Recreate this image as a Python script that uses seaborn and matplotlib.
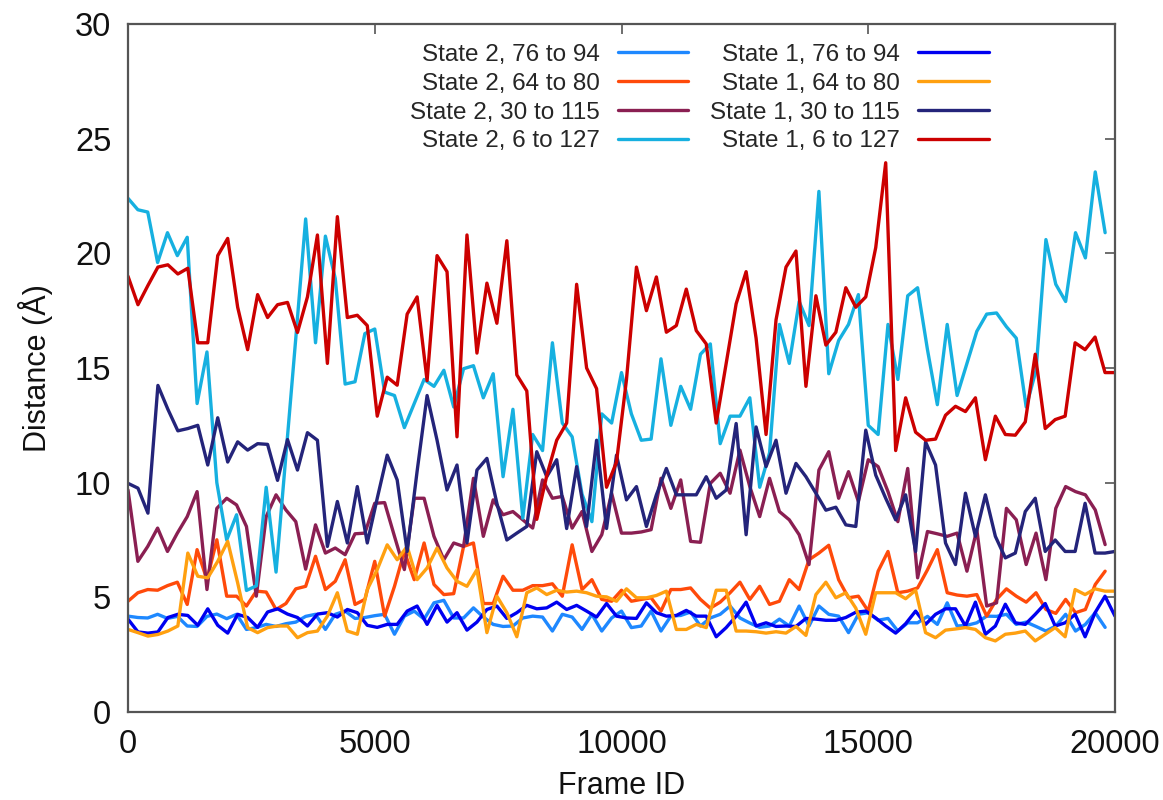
import numpy as np
import pandas as pd
import matplotlib
matplotlib.use("Agg")
import matplotlib.pyplot as plt
import seaborn as sns
from matplotlib.lines import Line2D

# ---------------- data ----------------
frames_s2 = np.arange(0, 19801, 200)          # State 2 sampling (100 frames)
frames_s1 = np.linspace(0, 20000, 100)        # State 1 sampling (100 frames)

s2_76_94 = [4.18, 4.12, 4.1, 4.26, 4.08, 4.17, 3.75, 3.73, 4.17, 4.27,
            4.07, 4.26, 3.6, 3.68, 3.82, 3.73, 3.85, 3.92, 4.17, 4.26,
            3.6, 4.26, 4.4, 4.08, 4.12, 4.2, 4.26, 3.39, 4.18, 4.4,
            4.05, 4.76, 4.87, 4.1, 4.1, 4.54, 4.14, 3.82, 3.73, 3.75,
            4.1, 4.18, 4.14, 3.53, 4.26, 4.14, 3.6, 4.26, 3.53, 4.1,
            4.4, 3.68, 3.75, 4.4, 3.53, 4.18, 4.21, 4.36, 3.75, 4.1,
            4.26, 4.62, 4.1, 3.88, 3.69, 3.75, 4.05, 3.75, 4.62, 3.75,
            4.62, 4.26, 4.18, 3.46, 4.26, 4.33, 4.0, 4.08, 3.53, 3.89,
            3.89, 4.17, 3.82, 4.76, 3.75, 3.78, 3.89, 4.18, 4.17, 4.26,
            3.82, 3.92, 3.73, 3.53, 3.75, 4.26, 3.53, 3.82, 4.33, 3.69]

s2_64_80 = [4.83, 5.2, 5.34, 5.31, 5.51, 5.66, 4.69, 7.08, 5.77, 7.51,
            5.05, 5.05, 4.62, 5.27, 5.23, 4.47, 4.73, 5.37, 5.48, 6.79,
            5.34, 5.7, 6.64, 4.69, 4.91, 6.57, 4.18, 5.48, 7.0, 5.77,
            7.37, 5.56, 5.12, 5.16, 7.22, 7.37, 4.73, 4.73, 5.92, 5.31,
            5.31, 5.51, 5.51, 5.59, 5.05, 7.29, 5.34, 5.77, 4.91, 4.83,
            5.31, 4.83, 4.91, 4.98, 4.4, 5.34, 5.34, 5.41, 4.91, 4.53,
            4.79, 5.2, 5.66, 4.91, 5.48, 4.69, 4.83, 5.77, 5.34, 6.64,
            6.93, 7.27, 5.77, 4.98, 5.05, 4.4, 6.14, 7.0, 5.2, 5.27,
            5.41, 6.2, 7.08, 5.2, 5.1, 5.05, 5.12, 4.18, 4.91, 5.37,
            5.05, 4.79, 5.2, 4.47, 4.3, 4.91, 4.33, 4.47, 5.56, 6.14]

s2_30_115 = [9.68, 6.57, 7.22, 8.02, 7.0, 7.8, 8.52, 9.61, 5.34, 8.88,
             9.32, 9.03, 8.09, 5.05, 8.52, 9.47, 8.81, 8.3, 6.23, 8.16,
             6.93, 7.15, 6.86, 7.77, 7.8, 9.1, 9.13, 7.66, 6.21, 9.32,
             9.32, 7.66, 6.64, 7.37, 7.22, 10.19, 7.66, 9.25, 8.6, 8.74,
             8.38, 8.02, 10.12, 9.32, 9.4, 8.02, 8.74, 7.0, 7.73, 9.54,
             7.8, 7.8, 7.85, 7.95, 10.19, 8.88, 10.12, 7.44, 7.4, 9.97,
             10.41, 9.54, 11.42, 9.83, 8.52, 10.19, 8.74, 8.38, 7.73, 6.43,
             10.55, 11.35, 9.32, 10.48, 9.18, 11.0, 10.7, 9.61, 8.3, 10.62,
             5.85, 7.87, 7.77, 7.66, 7.8, 6.14, 7.95, 4.62, 4.76, 8.88,
             8.38, 6.43, 7.8, 5.77, 8.88, 9.83, 9.61, 9.47, 8.81, 7.3]

s2_6_127 = [22.4, 21.9, 21.8, 19.6, 20.9, 19.9, 20.7, 13.45, 15.7, 10.0,
            7.5, 8.6, 5.3, 5.5, 9.8, 6.1, 11.2, 16.3, 21.5, 16.1,
            20.75, 18.9, 14.3, 14.4, 16.5, 16.7, 13.95, 13.8, 12.4, 13.45,
            14.5, 14.2, 14.9, 13.3, 14.97, 15.1, 13.7, 14.75, 10.26, 13.2,
            8.45, 12.1, 11.4, 16.1, 12.6, 12.0, 9.5, 8.3, 13.0, 12.6,
            14.8, 13.0, 11.85, 11.9, 15.4, 12.5, 14.2, 13.2, 15.6, 16.05,
            11.7, 12.9, 12.9, 13.7, 9.8, 11.3, 16.9, 15.2, 17.9, 16.85,
            22.7, 14.75, 16.2, 16.9, 18.2, 12.5, 12.1, 16.9, 14.5, 18.15,
            18.5, 15.8, 13.4, 16.9, 13.8, 15.2, 16.6, 17.35, 17.4, 16.8,
            16.3, 13.3, 14.9, 20.6, 18.65, 17.9, 20.9, 19.8, 23.55, 20.9]

s1_76_94 = [4.05, 3.49, 3.44, 3.49, 4.12, 4.26, 4.21, 3.78, 4.5, 3.78,
            3.44, 4.26, 4.12, 3.69, 4.36, 4.5, 4.27, 4.12, 3.75, 4.27,
            4.33, 4.14, 4.47, 4.33, 3.78, 3.69, 3.82, 3.82, 4.4, 4.62,
            3.82, 4.65, 3.92, 4.33, 3.57, 3.92, 4.47, 4.62, 4.08, 4.33,
            4.65, 4.5, 4.54, 4.79, 4.47, 4.65, 4.4, 4.14, 4.73, 4.18,
            4.1, 4.08, 4.76, 4.33, 4.18, 4.21, 4.43, 4.18, 4.18, 3.28,
            3.68, 4.18, 4.79, 3.75, 3.89, 3.73, 3.75, 3.73, 4.08, 4.05,
            4.0, 4.0, 4.12, 4.35, 4.4, 4.1, 3.75, 3.44, 3.85, 4.4,
            3.82, 4.26, 4.5, 4.5, 3.75, 4.79, 3.39, 3.75, 4.7, 3.89,
            3.82, 4.26, 4.73, 3.75, 3.89, 4.26, 3.28, 4.33, 5.05, 4.18]

s1_64_80 = [3.6, 3.46, 3.31, 3.38, 3.53, 3.75, 6.93, 5.92, 5.85, 6.57,
            7.44, 5.63, 3.68, 3.46, 3.68, 3.75, 3.75, 3.24, 3.46, 3.53,
            4.18, 5.2, 3.53, 3.39, 5.34, 6.21, 7.29, 6.64, 7.22, 5.77,
            6.28, 7.15, 6.28, 5.7, 5.48, 6.21, 3.46, 5.05, 4.33, 3.28,
            5.2, 5.41, 5.12, 5.31, 5.23, 5.27, 5.2, 5.05, 5.02, 4.83,
            5.37, 4.98, 4.98, 5.08, 5.27, 3.6, 3.6, 3.82, 3.68, 5.31,
            5.31, 3.53, 3.53, 3.5, 3.44, 3.5, 3.44, 3.73, 3.34, 5.12,
            5.66, 4.98, 5.2, 4.53, 3.39, 5.2, 5.2, 5.2, 4.94, 5.31,
            3.46, 3.24, 3.57, 3.62, 3.68, 3.6, 3.24, 3.1, 3.39, 3.44,
            3.53, 3.1, 3.39, 3.68, 3.28, 5.34, 5.12, 5.37, 5.27, 5.27]

s1_30_115 = [9.97, 9.76, 8.67, 14.24, 13.2, 12.26, 12.36, 12.5, 10.77, 12.83,
             10.9, 11.78, 11.42, 11.7, 11.67, 10.1, 11.88, 10.55, 12.18, 11.85,
             7.22, 9.18, 7.37, 9.83, 7.37, 9.32, 11.2, 10.12, 7.0, 10.5,
             13.8, 11.85, 9.68, 10.77, 7.37, 10.55, 11.06, 9.1, 7.5, 7.8,
             8.09, 11.35, 10.26, 11.0, 8.0, 10.7, 8.09, 11.85, 8.0, 11.2,
             9.25, 9.83, 8.09, 9.47, 10.62, 9.47, 9.47, 9.47, 10.26, 9.32,
             9.68, 12.58, 7.73, 12.43, 10.7, 11.85, 9.54, 10.84, 10.26, 9.54,
             8.8, 8.93, 8.16, 8.09, 12.29, 10.33, 9.32, 8.38, 9.47, 7.0,
             11.78, 10.77, 7.37, 6.43, 9.54, 7.66, 9.47, 7.66, 6.72, 6.93,
             8.74, 9.32, 7.0, 7.5, 7.0, 7.0, 9.1, 6.93, 6.93, 7.0]

s1_6_127 = [19.0, 17.76, 18.6, 19.4, 19.5, 19.1, 19.35, 16.1, 16.1, 19.9,
            20.65, 17.65, 15.8, 18.2, 17.2, 17.76, 17.86, 16.55, 18.1, 20.8,
            15.2, 21.6, 17.2, 17.3, 16.85, 12.9, 14.6, 14.25, 17.35, 18.1,
            14.45, 19.9, 19.2, 12.0, 20.8, 15.65, 18.7, 16.95, 20.55, 14.7,
            14.0, 8.4, 10.3, 11.85, 12.6, 18.65, 15.0, 14.1, 9.8, 10.9,
            14.5, 19.4, 17.5, 18.97, 16.56, 16.85, 18.44, 16.63, 16.05, 12.6,
            15.2, 17.8, 19.2, 16.3, 12.1, 17.1, 19.4, 20.1, 14.2, 18.15,
            16.0, 16.56, 18.5, 17.65, 18.1, 20.25, 23.95, 11.4, 13.7, 12.2,
            11.85, 11.9, 12.94, 13.33, 13.1, 13.7, 11.0, 12.9, 12.1, 12.07,
            12.65, 15.6, 12.36, 12.75, 12.9, 16.1, 15.8, 16.35, 14.8, 14.8]

labels = ["State 2, 76 to 94", "State 2, 64 to 80", "State 2, 30 to 115", "State 2, 6 to 127",
          "State 1, 76 to 94", "State 1, 64 to 80", "State 1, 30 to 115", "State 1, 6 to 127"]
colors = ["#1e88ff", "#ff4a0a", "#8a1f52", "#16b0e0",
          "#0000f0", "#ffa010", "#24247a", "#cc0000"]

series = [(frames_s2, s2_76_94), (frames_s2, s2_64_80), (frames_s2, s2_30_115), (frames_s2, s2_6_127),
          (frames_s1, s1_76_94), (frames_s1, s1_64_80), (frames_s1, s1_30_115), (frames_s1, s1_6_127)]

parts = []
for lab, (fx, vals) in zip(labels, series):
    parts.append(pd.DataFrame({"Frame": fx, "Distance": vals, "Series": lab}))
df = pd.concat(parts, ignore_index=True)

# ---------------- style ----------------
sns.set_style("white")
plt.rcParams["font.family"] = ["Liberation Sans", "DejaVu Sans"]

fig = plt.figure(figsize=(11.63, 8.0), dpi=100)
ax = fig.add_axes([128 / 1163, 1 - 712 / 800, 987 / 1163, 688 / 800])

sns.lineplot(data=df, x="Frame", y="Distance", hue="Series", hue_order=labels,
             palette=dict(zip(labels, colors)), estimator=None, sort=False,
             linewidth=2.4, ax=ax, legend=False)

ax.set_xlim(0, 20000)
ax.set_ylim(0, 30)
ax.set_xticks([0, 5000, 10000, 15000, 20000])
ax.set_yticks([0, 5, 10, 15, 20, 25, 30])
ax.tick_params(direction="in", length=7, width=1.2, color="#555555",
               top=True, right=True, labelsize=23.5, pad=12, labelcolor="#111111")
for sp in ax.spines.values():
    sp.set_color("#555555")
    sp.set_linewidth(1.6)

ax.set_xlabel("Frame ID", fontsize=22, color="#111111")
ax.set_ylabel("Distance (Å)", fontsize=22, color="#111111")
ax.xaxis.set_label_coords(0.5, -0.086)
ax.yaxis.set_label_coords(-0.076, 0.5)

handles = [Line2D([0], [0], color=c, lw=2.4) for c in colors]
ax.legend(handles, labels, ncol=2, markerfirst=False, frameon=False,
          loc="upper right", bbox_to_anchor=(0.872, 0.971), borderaxespad=0,
          borderpad=0, fontsize=17.5, handlelength=2.9, handletextpad=0.75,
          columnspacing=0.9, labelspacing=0.28)

fig.savefig("out.png", dpi=100, facecolor="white")
